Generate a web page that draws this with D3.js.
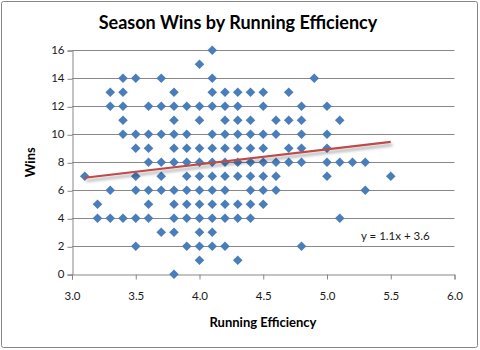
<!DOCTYPE html>
<html lang="en">

<head>
    <meta charset="UTF-8">
    <title>Season Wins by Running Efficiency</title>
    <script src="https://d3js.org/d3.v7.min.js"></script>
    <style>
        body { margin: 0; background: #fff; }
    </style>
</head>

<body>
    <div id="chart"></div>

    <script>
        // wins value of each row of points, and the running efficiency values on that row
        const winsLevels = [16, 15, 14, 13, 12, 11, 10, 9, 8, 7, 6, 5, 4, 3, 2, 1, 0];
        const efficiencyAtWins = [
            [4.1],
            [4.0],
            [3.4, 3.5, 3.7, 4.1, 4.9],
            [3.3, 3.4, 3.8, 4.1, 4.2, 4.3, 4.4, 4.5, 4.7],
            [3.3, 3.4, 3.6, 3.7, 3.8, 3.9, 4.0, 4.1, 4.2, 4.3, 4.5, 4.8, 5.0],
            [3.4, 3.8, 4.0, 4.2, 4.3, 4.4, 4.6, 4.7, 4.8, 5.1],
            [3.4, 3.5, 3.6, 3.7, 3.8, 3.9, 4.1, 4.2, 4.3, 4.4, 4.5, 4.6, 4.8, 5.0],
            [3.5, 3.6, 3.8, 3.9, 4.0, 4.1, 4.2, 4.3, 4.4, 4.5, 4.7, 4.8, 5.0],
            [3.6, 3.7, 3.8, 3.9, 4.0, 4.1, 4.2, 4.3, 4.4, 4.5, 4.6, 4.7, 4.8, 5.0, 5.1, 5.2, 5.3],
            [3.1, 3.5, 3.7, 3.9, 4.0, 4.1, 4.2, 4.3, 4.4, 4.5, 4.6, 5.0, 5.5],
            [3.3, 3.5, 3.6, 3.7, 3.8, 3.9, 4.0, 4.1, 4.2, 4.4, 4.5, 4.6, 5.3],
            [3.2, 3.6, 3.8, 3.9, 4.0, 4.1, 4.2, 4.3, 4.4, 4.5],
            [3.2, 3.3, 3.4, 3.5, 3.6, 3.8, 3.9, 4.0, 4.1, 4.2, 4.3, 4.4, 5.1],
            [3.7, 3.8, 4.0, 4.1],
            [3.5, 3.9, 4.0, 4.1, 4.2, 4.8],
            [4.0, 4.3],
            [3.8]
        ];

        // linear trend line (many points overlap, so it is not refit)
        const trendSlope = 1.07;
        const trendIntercept = 3.58;

        const xTicks = [3.0, 3.5, 4.0, 4.5, 5.0, 5.5, 6.0];
        const yTicks = [0, 2, 4, 6, 8, 10, 12, 14, 16];

        // flatten into points
        const points = [];
        winsLevels.forEach((w, i) => {
            efficiencyAtWins[i].forEach(e => points.push({ x: e, y: w }));
        });

        const width = 480;
        const height = 350;
        const margin = { top: 50.3, right: 25.5, bottom: 75.7, left: 72 };

        const svg = d3.select("#chart")
            .append("svg")
            .attr("width", width)
            .attr("height", height)
            .attr("font-family", "Lato, 'Open Sans', sans-serif");

        // drop shadow for the trend line
        const defs = svg.append("defs");
        const shadow = defs.append("filter")
            .attr("id", "shadow")
            .attr("x", "-10%").attr("y", "-200%")
            .attr("width", "120%").attr("height", "500%");
        shadow.append("feDropShadow")
            .attr("dx", 1.5).attr("dy", 3)
            .attr("stdDeviation", 1.6)
            .attr("flood-color", "#000")
            .attr("flood-opacity", 0.35);

        // outer frame
        svg.append("rect")
            .attr("x", 1.5).attr("y", 1.5)
            .attr("width", 476).attr("height", 346)
            .attr("rx", 2)
            .attr("fill", "#fff")
            .attr("stroke", "#868686")
            .attr("stroke-width", 1);

        const x = d3.scaleLinear()
            .domain([3, 6])
            .range([margin.left, width - margin.right]);

        const y = d3.scaleLinear()
            .domain([0, 16])
            .range([height - margin.bottom, margin.top]);

        // gridlines
        svg.append("g")
            .selectAll("line")
            .data(yTicks.filter(d => d > 0))
            .join("line")
            .attr("x1", x(3)).attr("x2", x(6))
            .attr("y1", d => Math.round(y(d)) + 0.5)
            .attr("y2", d => Math.round(y(d)) + 0.5)
            .attr("stroke", "#878787");

        // axes
        const xAxis = svg.append("g")
            .attr("transform", `translate(0,${Math.round(y(0)) + 0.5})`)
            .call(d3.axisBottom(x).tickValues(xTicks).tickFormat(d3.format(".1f")).tickSizeOuter(0).tickSize(5).tickPadding(12));

        const yAxis = svg.append("g")
            .attr("transform", `translate(${Math.round(x(3)) + 0.5},0)`)
            .call(d3.axisLeft(y).tickValues(yTicks).tickSizeOuter(0).tickSize(5).tickPadding(3));

        [xAxis, yAxis].forEach(a => {
            a.select(".domain").attr("stroke", "#878787");
            a.selectAll(".tick line").attr("stroke", "#878787");
            a.selectAll(".tick text")
                .attr("fill", "#1a1a1a")
                .attr("font-size", 11.5)
                .attr("font-family", "Lato, sans-serif");
        });
        yAxis.selectAll(".tick line").attr("transform", "translate(0,0.5)");

        // points (diamonds)
        const diamond = d3.symbol().type(d3.symbolSquare).size(46);
        svg.append("g")
            .selectAll("path")
            .data(points)
            .join("path")
            .attr("d", diamond)
            .attr("transform", d => `translate(${x(d.x)},${y(d.y)}) rotate(45)`)
            .attr("fill", "#4a7ebb");

        // trend line spans the data range
        const [xMin, xMax] = d3.extent(points, d => d.x);

        svg.append("line")
            .attr("x1", x(xMin)).attr("y1", y(trendSlope * xMin + trendIntercept))
            .attr("x2", x(xMax)).attr("y2", y(trendSlope * xMax + trendIntercept))
            .attr("stroke", "#be4b48")
            .attr("stroke-width", 2.2)
            .attr("filter", "url(#shadow)");

        svg.append("text")
            .attr("x", 361)
            .attr("y", 239.5)
            .attr("font-size", 11.5)
            .attr("fill", "#1a1a1a")
            .text(`y = ${trendSlope.toFixed(1)}x + ${trendIntercept.toFixed(1)}`);

        // titles
        svg.append("text")
            .attr("x", 238)
            .attr("y", 28.5)
            .attr("text-anchor", "middle")
            .attr("font-size", 18)
            .attr("font-weight", "bold")
            .attr("fill", "#000")
            .text("Season Wins by Running Efficiency");

        svg.append("text")
            .attr("x", 263)
            .attr("y", 327)
            .attr("text-anchor", "middle")
            .attr("font-size", 13)
            .attr("font-weight", "bold")
            .attr("fill", "#000")
            .text("Running Efficiency");

        svg.append("text")
            .attr("transform", `translate(35,${y(8)}) rotate(-90)`)
            .attr("text-anchor", "middle")
            .attr("font-size", 13)
            .attr("font-weight", "bold")
            .attr("fill", "#000")
            .text("Wins");
    </script>
</body>

</html>
